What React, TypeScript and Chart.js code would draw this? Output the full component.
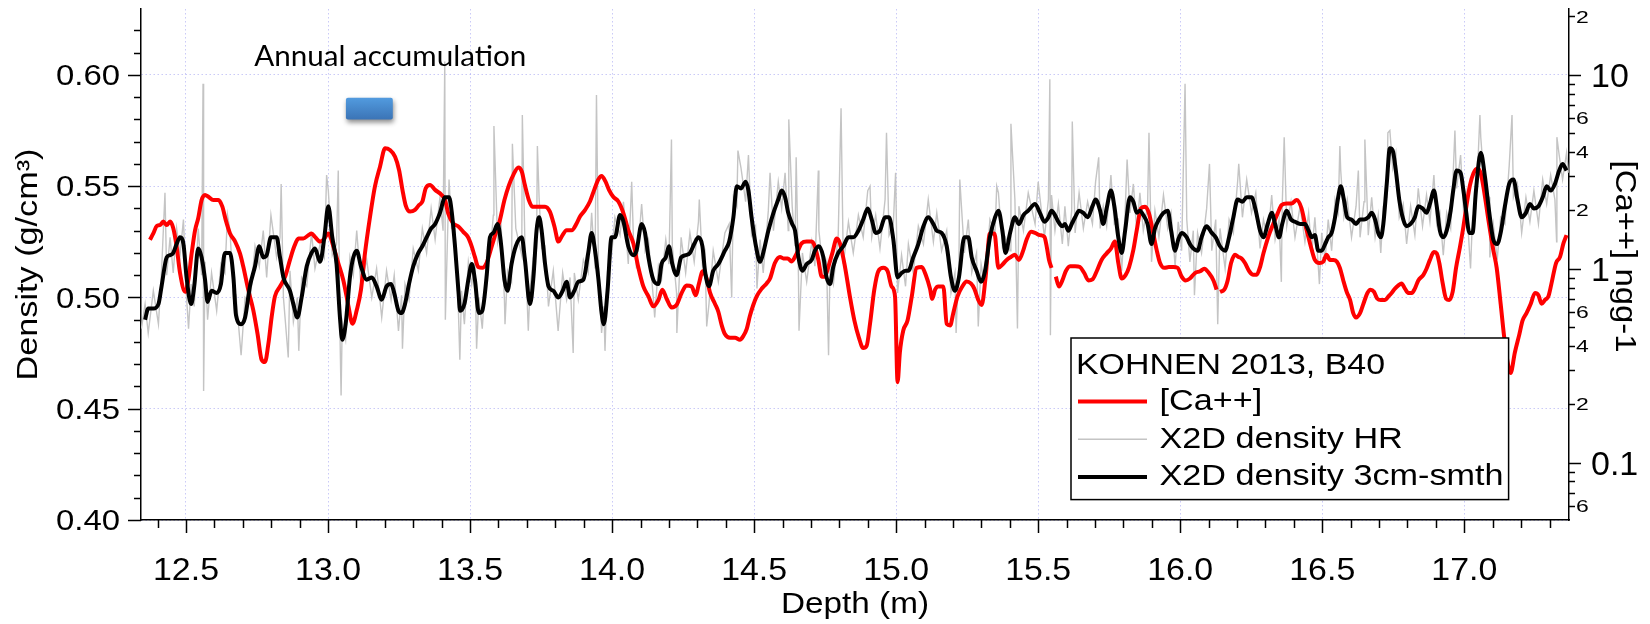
import React, { useEffect, useRef } from "react";
import { Chart, registerables } from "chart.js";

Chart.register(...registerables);

// ---------- axis definitions ----------
const depthTicks = [12.5, 13.0, 13.5, 14.0, 14.5, 15.0, 15.5, 16.0, 16.5, 17.0];
const depthTickLabels = ["12.5", "13.0", "13.5", "14.0", "14.5", "15.0", "15.5", "16.0", "16.5", "17.0"];
const densityTicks = [0.4, 0.45, 0.5, 0.55, 0.6];
const densityTickLabels = ["0.40", "0.45", "0.50", "0.55", "0.60"];
const caMajorTicks = [0.1, 1, 10];
const caMajorLabels = ["0.1", "1", "10"];
const caLabeledMinorTicks = [0.06, 0.2, 0.4, 0.6, 2, 4, 6, 20];
const caLabeledMinorLabels = ["6", "2", "4", "6", "2", "4", "6", "2"];
const caPlainMinorTicks = [0.07, 0.08, 0.09, 0.3, 0.5, 0.7, 0.8, 0.9, 3, 5, 7, 8, 9];

const depthRange = [12.3416, 17.3686];
const densityRange = [0.4, 0.6296];
const caRange = [0.0506, 21.84];

const legendTitle = "KOHNEN 2013, B40";
const annotationText = "Annual accumulation";
const annualBoxDepth = [13.063, 13.228];
const annualBoxDensity = [0.58, 0.5897];
const annotationAnchor = [13.219, 0.604];

// ---------- series: X2D density 3cm smoothed [depth m, g/cm3] ----------
const smoothSeries: [number, number][] = [
  [12.356, 0.490], [12.367, 0.495], [12.385, 0.495], [12.403, 0.497], [12.414, 0.505], [12.432, 0.518],
  [12.444, 0.519], [12.455, 0.520], [12.467, 0.524], [12.479, 0.527], [12.491, 0.524], [12.502, 0.509],
  [12.518, 0.497], [12.529, 0.505], [12.543, 0.522], [12.555, 0.518], [12.567, 0.508], [12.576, 0.498],
  [12.590, 0.503], [12.608, 0.502], [12.623, 0.506], [12.637, 0.520], [12.655, 0.520], [12.667, 0.509],
  [12.676, 0.492], [12.694, 0.488], [12.708, 0.491], [12.725, 0.505], [12.743, 0.514], [12.758, 0.523],
  [12.772, 0.518], [12.784, 0.519], [12.799, 0.527], [12.819, 0.527], [12.831, 0.518], [12.843, 0.509],
  [12.866, 0.503], [12.878, 0.497], [12.892, 0.491], [12.907, 0.500], [12.925, 0.514], [12.942, 0.520],
  [12.954, 0.522], [12.972, 0.516], [12.987, 0.527], [13.001, 0.541], [13.015, 0.527], [13.030, 0.515],
  [13.042, 0.491], [13.050, 0.481], [13.062, 0.488], [13.077, 0.509], [13.089, 0.518], [13.101, 0.521],
  [13.116, 0.514], [13.136, 0.508], [13.154, 0.509], [13.171, 0.505], [13.189, 0.499], [13.206, 0.505],
  [13.222, 0.506], [13.233, 0.502], [13.248, 0.494], [13.259, 0.493], [13.271, 0.497], [13.285, 0.506],
  [13.300, 0.514], [13.318, 0.520], [13.332, 0.523], [13.347, 0.527], [13.363, 0.531], [13.377, 0.533],
  [13.394, 0.538], [13.412, 0.545], [13.426, 0.545], [13.435, 0.539], [13.447, 0.523], [13.459, 0.503],
  [13.465, 0.494], [13.480, 0.497], [13.494, 0.508], [13.506, 0.515], [13.517, 0.508], [13.531, 0.493],
  [13.543, 0.494], [13.558, 0.509], [13.570, 0.527], [13.582, 0.529], [13.597, 0.533], [13.609, 0.524],
  [13.621, 0.508], [13.632, 0.503], [13.646, 0.515], [13.661, 0.523], [13.682, 0.527], [13.693, 0.517],
  [13.711, 0.497], [13.723, 0.509], [13.734, 0.530], [13.743, 0.536], [13.752, 0.530], [13.764, 0.515],
  [13.776, 0.505], [13.793, 0.503], [13.811, 0.500], [13.826, 0.503], [13.840, 0.507], [13.852, 0.500],
  [13.867, 0.503], [13.881, 0.507], [13.899, 0.508], [13.916, 0.520], [13.928, 0.529], [13.940, 0.521],
  [13.952, 0.508], [13.963, 0.493], [13.971, 0.488], [13.984, 0.503], [13.998, 0.527], [14.010, 0.527],
  [14.028, 0.537], [14.040, 0.534], [14.057, 0.523], [14.075, 0.519], [14.086, 0.521], [14.104, 0.533],
  [14.116, 0.529], [14.128, 0.518], [14.145, 0.508], [14.163, 0.506], [14.174, 0.515], [14.189, 0.518],
  [14.200, 0.523], [14.212, 0.515], [14.227, 0.510], [14.243, 0.518], [14.259, 0.519], [14.274, 0.520],
  [14.289, 0.524], [14.304, 0.527], [14.318, 0.523], [14.327, 0.512], [14.341, 0.505], [14.356, 0.512],
  [14.374, 0.515], [14.397, 0.521], [14.412, 0.525], [14.427, 0.536], [14.439, 0.550], [14.454, 0.549],
  [14.470, 0.552], [14.480, 0.548], [14.491, 0.536], [14.505, 0.524], [14.521, 0.516], [14.532, 0.520],
  [14.550, 0.530], [14.568, 0.538], [14.585, 0.544], [14.597, 0.548], [14.609, 0.545], [14.620, 0.538],
  [14.634, 0.533], [14.644, 0.530], [14.656, 0.518], [14.670, 0.512], [14.685, 0.515], [14.703, 0.517],
  [14.714, 0.521], [14.728, 0.523], [14.744, 0.518], [14.755, 0.509], [14.767, 0.506], [14.779, 0.514],
  [14.796, 0.520], [14.814, 0.523], [14.832, 0.527], [14.849, 0.527], [14.867, 0.530], [14.884, 0.535],
  [14.900, 0.540], [14.914, 0.535], [14.928, 0.529], [14.943, 0.530], [14.961, 0.536], [14.975, 0.536],
  [14.990, 0.526], [15.005, 0.509], [15.019, 0.511], [15.033, 0.512], [15.043, 0.512], [15.060, 0.518],
  [15.078, 0.524], [15.096, 0.532], [15.113, 0.536], [15.131, 0.533], [15.143, 0.530], [15.160, 0.529],
  [15.178, 0.523], [15.193, 0.509], [15.207, 0.503], [15.221, 0.509], [15.240, 0.527], [15.254, 0.527],
  [15.266, 0.518], [15.283, 0.512], [15.299, 0.507], [15.313, 0.512], [15.330, 0.527], [15.348, 0.536],
  [15.360, 0.539], [15.374, 0.530], [15.385, 0.520], [15.401, 0.529], [15.418, 0.536], [15.432, 0.533],
  [15.448, 0.537], [15.465, 0.539], [15.489, 0.542], [15.506, 0.538], [15.522, 0.534], [15.536, 0.536],
  [15.547, 0.539], [15.559, 0.537], [15.571, 0.534], [15.585, 0.532], [15.594, 0.533], [15.606, 0.530],
  [15.618, 0.533], [15.630, 0.536], [15.644, 0.539], [15.659, 0.538], [15.674, 0.536], [15.691, 0.541],
  [15.702, 0.544], [15.718, 0.539], [15.729, 0.533], [15.741, 0.540], [15.756, 0.548], [15.768, 0.541],
  [15.782, 0.527], [15.794, 0.520], [15.806, 0.530], [15.823, 0.545], [15.835, 0.543], [15.847, 0.538],
  [15.858, 0.539], [15.870, 0.537], [15.885, 0.533], [15.899, 0.524], [15.911, 0.531], [15.925, 0.535],
  [15.941, 0.538], [15.956, 0.539], [15.968, 0.530], [15.982, 0.521], [15.993, 0.526], [16.005, 0.529],
  [16.023, 0.527], [16.034, 0.524], [16.046, 0.522], [16.061, 0.521], [16.075, 0.527], [16.093, 0.532],
  [16.111, 0.529], [16.125, 0.527], [16.140, 0.523], [16.158, 0.521], [16.172, 0.527], [16.187, 0.536],
  [16.202, 0.544], [16.219, 0.543], [16.234, 0.545], [16.251, 0.545], [16.266, 0.539], [16.281, 0.530],
  [16.293, 0.527], [16.308, 0.533], [16.322, 0.538], [16.334, 0.533], [16.348, 0.527], [16.359, 0.533],
  [16.375, 0.539], [16.390, 0.535], [16.404, 0.534], [16.422, 0.533], [16.439, 0.533], [16.452, 0.530],
  [16.463, 0.527], [16.474, 0.528], [16.486, 0.521], [16.498, 0.521], [16.510, 0.524], [16.521, 0.527],
  [16.533, 0.529], [16.545, 0.536], [16.556, 0.545], [16.565, 0.550], [16.576, 0.544], [16.588, 0.536],
  [16.603, 0.535], [16.619, 0.533], [16.633, 0.535], [16.647, 0.535], [16.662, 0.536], [16.674, 0.538],
  [16.686, 0.535], [16.697, 0.529], [16.706, 0.527], [16.715, 0.533], [16.727, 0.551], [16.738, 0.567],
  [16.748, 0.566], [16.759, 0.557], [16.771, 0.544], [16.785, 0.535], [16.797, 0.532], [16.811, 0.533],
  [16.826, 0.536], [16.838, 0.541], [16.853, 0.540], [16.867, 0.538], [16.879, 0.542], [16.893, 0.548],
  [16.903, 0.541], [16.914, 0.530], [16.926, 0.527], [16.938, 0.530], [16.952, 0.539], [16.961, 0.548],
  [16.973, 0.557], [16.987, 0.556], [16.997, 0.548], [17.006, 0.539], [17.018, 0.529], [17.029, 0.529],
  [17.041, 0.548], [17.058, 0.565], [17.073, 0.554], [17.088, 0.538], [17.102, 0.526], [17.116, 0.524],
  [17.128, 0.529], [17.143, 0.541], [17.158, 0.551], [17.173, 0.553], [17.187, 0.544], [17.202, 0.536],
  [17.217, 0.538], [17.231, 0.542], [17.245, 0.540], [17.261, 0.541], [17.276, 0.545], [17.290, 0.550],
  [17.304, 0.548], [17.319, 0.551], [17.334, 0.557], [17.346, 0.560], [17.360, 0.557],
];

// ---------- series: X2D density high resolution [depth m, g/cm3] ----------
const hrSeries: [number, number][] = [
  [12.343, 0.486], [12.356, 0.497], [12.367, 0.484], [12.385, 0.503], [12.403, 0.488], [12.414, 0.512],
  [12.426, 0.547], [12.432, 0.510], [12.444, 0.527], [12.455, 0.511], [12.467, 0.531], [12.479, 0.519],
  [12.491, 0.535], [12.502, 0.500], [12.509, 0.486], [12.518, 0.506], [12.529, 0.496], [12.543, 0.531],
  [12.555, 0.510], [12.560, 0.596], [12.562, 0.458], [12.567, 0.516], [12.576, 0.490], [12.590, 0.511],
  [12.608, 0.494], [12.623, 0.515], [12.637, 0.511], [12.646, 0.537], [12.655, 0.530], [12.667, 0.500],
  [12.676, 0.501], [12.694, 0.474], [12.708, 0.500], [12.725, 0.497], [12.743, 0.523], [12.758, 0.514],
  [12.772, 0.530], [12.784, 0.509], [12.799, 0.537], [12.819, 0.518], [12.831, 0.527], [12.835, 0.551],
  [12.843, 0.500], [12.860, 0.473], [12.866, 0.512], [12.878, 0.489], [12.892, 0.500], [12.897, 0.476],
  [12.907, 0.509], [12.925, 0.505], [12.942, 0.529], [12.954, 0.513], [12.972, 0.524], [12.987, 0.518],
  [12.995, 0.555], [13.001, 0.548], [13.015, 0.519], [13.030, 0.524], [13.036, 0.557], [13.042, 0.484],
  [13.046, 0.456], [13.050, 0.489], [13.062, 0.481], [13.077, 0.518], [13.089, 0.510], [13.101, 0.530],
  [13.116, 0.505], [13.136, 0.517], [13.154, 0.500], [13.171, 0.513], [13.189, 0.491], [13.206, 0.512],
  [13.222, 0.499], [13.233, 0.510], [13.248, 0.485], [13.259, 0.501], [13.262, 0.477], [13.271, 0.506],
  [13.285, 0.499], [13.300, 0.522], [13.318, 0.512], [13.332, 0.531], [13.347, 0.520], [13.363, 0.540],
  [13.377, 0.526], [13.394, 0.545], [13.405, 0.530], [13.411, 0.606], [13.413, 0.490], [13.426, 0.553],
  [13.435, 0.531], [13.447, 0.531], [13.459, 0.494], [13.464, 0.472], [13.470, 0.503], [13.480, 0.488],
  [13.494, 0.516], [13.506, 0.506], [13.517, 0.516], [13.523, 0.477], [13.531, 0.500], [13.543, 0.486],
  [13.558, 0.518], [13.570, 0.519], [13.582, 0.537], [13.584, 0.577], [13.597, 0.525], [13.609, 0.533],
  [13.621, 0.499], [13.623, 0.488], [13.632, 0.512], [13.646, 0.507], [13.649, 0.569], [13.661, 0.531],
  [13.682, 0.519], [13.684, 0.582], [13.693, 0.525], [13.705, 0.485], [13.711, 0.504], [13.723, 0.518],
  [13.734, 0.522], [13.737, 0.568], [13.743, 0.545], [13.752, 0.522], [13.764, 0.523], [13.776, 0.496],
  [13.793, 0.512], [13.810, 0.485], [13.826, 0.511], [13.840, 0.499], [13.852, 0.509], [13.863, 0.475],
  [13.867, 0.511], [13.881, 0.499], [13.899, 0.517], [13.916, 0.511], [13.928, 0.538], [13.940, 0.513],
  [13.945, 0.591], [13.952, 0.516], [13.963, 0.484], [13.971, 0.496], [13.975, 0.476], [13.984, 0.512],
  [13.998, 0.519], [14.010, 0.536], [14.028, 0.528], [14.040, 0.543], [14.057, 0.515], [14.069, 0.552],
  [14.075, 0.527], [14.086, 0.513], [14.104, 0.542], [14.116, 0.521], [14.128, 0.526], [14.145, 0.500],
  [14.150, 0.491], [14.163, 0.514], [14.174, 0.508], [14.189, 0.526], [14.200, 0.515], [14.209, 0.571],
  [14.212, 0.523], [14.227, 0.502], [14.228, 0.484], [14.243, 0.527], [14.259, 0.511], [14.274, 0.529],
  [14.289, 0.516], [14.304, 0.534], [14.307, 0.544], [14.318, 0.515], [14.327, 0.520], [14.333, 0.487],
  [14.341, 0.497], [14.356, 0.521], [14.374, 0.507], [14.397, 0.529], [14.412, 0.533], [14.421, 0.500],
  [14.427, 0.545], [14.439, 0.541], [14.443, 0.566], [14.454, 0.558], [14.470, 0.543], [14.480, 0.564],
  [14.491, 0.528], [14.505, 0.532], [14.510, 0.504], [14.521, 0.526], [14.532, 0.511], [14.550, 0.539],
  [14.556, 0.556], [14.568, 0.530], [14.585, 0.552], [14.597, 0.540], [14.609, 0.556], [14.620, 0.530],
  [14.622, 0.580], [14.634, 0.541], [14.644, 0.523], [14.648, 0.563], [14.656, 0.510], [14.658, 0.485],
  [14.670, 0.520], [14.685, 0.507], [14.703, 0.525], [14.714, 0.514], [14.726, 0.557], [14.728, 0.530],
  [14.744, 0.511], [14.755, 0.516], [14.762, 0.474], [14.767, 0.513], [14.779, 0.506], [14.796, 0.528],
  [14.806, 0.585], [14.814, 0.515], [14.832, 0.534], [14.849, 0.520], [14.867, 0.537], [14.884, 0.527],
  [14.900, 0.548], [14.908, 0.550], [14.914, 0.527], [14.928, 0.537], [14.943, 0.522], [14.961, 0.544],
  [14.966, 0.574], [14.975, 0.528], [14.990, 0.533], [14.998, 0.556], [15.005, 0.502], [15.019, 0.519],
  [15.033, 0.505], [15.043, 0.524], [15.060, 0.511], [15.078, 0.532], [15.096, 0.524], [15.113, 0.544],
  [15.131, 0.525], [15.143, 0.538], [15.160, 0.521], [15.178, 0.530], [15.193, 0.502], [15.207, 0.511],
  [15.211, 0.484], [15.221, 0.517], [15.224, 0.553], [15.240, 0.520], [15.254, 0.535], [15.266, 0.511],
  [15.283, 0.520], [15.289, 0.487], [15.299, 0.515], [15.313, 0.505], [15.330, 0.535], [15.348, 0.529],
  [15.354, 0.550], [15.360, 0.547], [15.374, 0.523], [15.385, 0.527], [15.401, 0.521], [15.404, 0.578],
  [15.418, 0.544], [15.427, 0.486], [15.432, 0.541], [15.448, 0.530], [15.465, 0.547], [15.489, 0.533],
  [15.500, 0.552], [15.506, 0.545], [15.522, 0.527], [15.536, 0.544], [15.541, 0.598], [15.543, 0.483],
  [15.547, 0.546], [15.559, 0.530], [15.571, 0.542], [15.585, 0.524], [15.594, 0.541], [15.606, 0.523],
  [15.618, 0.539], [15.620, 0.579], [15.630, 0.529], [15.644, 0.547], [15.659, 0.531], [15.674, 0.543],
  [15.691, 0.533], [15.702, 0.552], [15.713, 0.563], [15.718, 0.531], [15.729, 0.541], [15.741, 0.532],
  [15.756, 0.555], [15.768, 0.533], [15.782, 0.535], [15.794, 0.512], [15.806, 0.538], [15.813, 0.562],
  [15.823, 0.538], [15.835, 0.551], [15.847, 0.530], [15.858, 0.547], [15.870, 0.530], [15.885, 0.541],
  [15.890, 0.574], [15.899, 0.516], [15.911, 0.539], [15.925, 0.527], [15.941, 0.546], [15.956, 0.531],
  [15.968, 0.538], [15.982, 0.514], [15.993, 0.534], [16.005, 0.521], [16.017, 0.596], [16.023, 0.535],
  [16.034, 0.516], [16.046, 0.530], [16.050, 0.501], [16.061, 0.529], [16.075, 0.520], [16.093, 0.540],
  [16.103, 0.560], [16.111, 0.521], [16.125, 0.535], [16.132, 0.488], [16.140, 0.531], [16.158, 0.513],
  [16.172, 0.535], [16.187, 0.529], [16.202, 0.552], [16.206, 0.560], [16.219, 0.536], [16.234, 0.553],
  [16.251, 0.538], [16.266, 0.547], [16.281, 0.522], [16.293, 0.535], [16.308, 0.526], [16.322, 0.546],
  [16.334, 0.526], [16.348, 0.535], [16.356, 0.507], [16.359, 0.541], [16.366, 0.572], [16.375, 0.532],
  [16.390, 0.543], [16.404, 0.527], [16.422, 0.541], [16.439, 0.525], [16.452, 0.538], [16.463, 0.520],
  [16.474, 0.536], [16.486, 0.514], [16.490, 0.506], [16.498, 0.529], [16.510, 0.517], [16.521, 0.535],
  [16.533, 0.521], [16.545, 0.544], [16.556, 0.538], [16.562, 0.568], [16.565, 0.557], [16.576, 0.536],
  [16.588, 0.544], [16.603, 0.527], [16.619, 0.541], [16.627, 0.557], [16.633, 0.527], [16.647, 0.543],
  [16.650, 0.571], [16.662, 0.528], [16.674, 0.545], [16.686, 0.527], [16.697, 0.537], [16.706, 0.520],
  [16.715, 0.541], [16.727, 0.545], [16.731, 0.574], [16.738, 0.575], [16.748, 0.558], [16.759, 0.565],
  [16.771, 0.536], [16.785, 0.542], [16.797, 0.524], [16.811, 0.541], [16.826, 0.528], [16.838, 0.549],
  [16.853, 0.532], [16.867, 0.546], [16.879, 0.534], [16.893, 0.555], [16.903, 0.533], [16.914, 0.538],
  [16.926, 0.519], [16.938, 0.538], [16.952, 0.531], [16.961, 0.556], [16.967, 0.575], [16.973, 0.549],
  [16.987, 0.564], [16.997, 0.540], [17.006, 0.547], [17.018, 0.521], [17.022, 0.513], [17.029, 0.536],
  [17.041, 0.540], [17.055, 0.582], [17.058, 0.572], [17.073, 0.546], [17.088, 0.545], [17.090, 0.518],
  [17.102, 0.533], [17.116, 0.517], [17.128, 0.536], [17.143, 0.533], [17.158, 0.559], [17.168, 0.582],
  [17.173, 0.545], [17.187, 0.551], [17.202, 0.529], [17.217, 0.545], [17.231, 0.534], [17.245, 0.548],
  [17.261, 0.533], [17.276, 0.553], [17.290, 0.542], [17.304, 0.555], [17.319, 0.544], [17.325, 0.525],
  [17.326, 0.572], [17.334, 0.564], [17.346, 0.553], [17.360, 0.565], [17.366, 0.556],
];

// ---------- series: [Ca++] ng/g [depth m, ng/g]; null = data gap ----------
const caSeries: [number, number | null][] = [
  [12.373, 1.41], [12.385, 1.52], [12.397, 1.66], [12.409, 1.68], [12.420, 1.75], [12.432, 1.68],
  [12.444, 1.75], [12.455, 1.62], [12.467, 1.30], [12.479, 0.95], [12.497, 0.76], [12.508, 0.87],
  [12.520, 1.20], [12.532, 1.58], [12.543, 1.82], [12.555, 2.26], [12.567, 2.40], [12.579, 2.35],
  [12.596, 2.26], [12.614, 2.26], [12.628, 2.09], [12.640, 1.78], [12.655, 1.52], [12.673, 1.38],
  [12.690, 1.20], [12.702, 1.02], [12.719, 0.78], [12.737, 0.61], [12.752, 0.46], [12.766, 0.34],
  [12.778, 0.33], [12.790, 0.41], [12.802, 0.57], [12.813, 0.72], [12.831, 0.81], [12.849, 0.91],
  [12.866, 1.11], [12.881, 1.30], [12.896, 1.43], [12.913, 1.43], [12.931, 1.49], [12.942, 1.52],
  [12.954, 1.46], [12.972, 1.38], [12.984, 1.41], [13.001, 1.52], [13.019, 1.30], [13.036, 1.07],
  [13.054, 0.87], [13.072, 0.64], [13.086, 0.52], [13.101, 0.61], [13.116, 0.78], [13.130, 1.20],
  [13.148, 1.86], [13.165, 2.65], [13.183, 3.36], [13.201, 4.18], [13.218, 4.09], [13.236, 3.78],
  [13.250, 3.23], [13.262, 2.55], [13.273, 2.13], [13.289, 1.97], [13.306, 2.01], [13.320, 2.13],
  [13.332, 2.22], [13.344, 2.60], [13.359, 2.70], [13.377, 2.55], [13.400, 2.40], [13.412, 2.26],
  [13.423, 1.93], [13.441, 1.71], [13.459, 1.65], [13.476, 1.55], [13.492, 1.46], [13.506, 1.30],
  [13.517, 1.15], [13.529, 1.02], [13.543, 1.01], [13.558, 1.07], [13.576, 1.30], [13.590, 1.52],
  [13.605, 1.78], [13.621, 2.26], [13.637, 2.70], [13.652, 3.04], [13.670, 3.33], [13.682, 3.17],
  [13.693, 2.70], [13.707, 2.26], [13.719, 2.09], [13.740, 2.09], [13.764, 2.09], [13.781, 1.97],
  [13.797, 1.65], [13.811, 1.38], [13.822, 1.46], [13.840, 1.58], [13.858, 1.58], [13.875, 1.71],
  [13.887, 1.86], [13.905, 2.01], [13.922, 2.22], [13.937, 2.55], [13.952, 2.89], [13.963, 3.01],
  [13.977, 2.81], [13.989, 2.55], [14.004, 2.35], [14.022, 2.22], [14.040, 1.93], [14.057, 1.58],
  [14.075, 1.35], [14.092, 1.02], [14.110, 0.81], [14.128, 0.72], [14.145, 0.64], [14.163, 0.69],
  [14.177, 0.78], [14.192, 0.70], [14.210, 0.63], [14.227, 0.65], [14.245, 0.75], [14.262, 0.82],
  [14.280, 0.81], [14.294, 0.73], [14.306, 0.84], [14.319, 0.97], [14.333, 0.89], [14.345, 0.75],
  [14.362, 0.66], [14.374, 0.60], [14.386, 0.51], [14.397, 0.46], [14.415, 0.44], [14.433, 0.44],
  [14.450, 0.43], [14.462, 0.45], [14.474, 0.49], [14.485, 0.57], [14.497, 0.65], [14.509, 0.72],
  [14.527, 0.79], [14.544, 0.84], [14.556, 0.89], [14.573, 1.07], [14.591, 1.15], [14.603, 1.13],
  [14.618, 1.13], [14.632, 1.09], [14.650, 1.20], [14.667, 1.35], [14.685, 1.38], [14.703, 1.38],
  [14.714, 1.30], [14.726, 1.11], [14.738, 0.91], [14.749, 0.91], [14.761, 1.02], [14.775, 1.20],
  [14.791, 1.43], [14.802, 1.35], [14.820, 1.02], [14.837, 0.72], [14.853, 0.54], [14.869, 0.44],
  [14.884, 0.39], [14.896, 0.40], [14.908, 0.52], [14.923, 0.78], [14.937, 0.97], [14.955, 1.01],
  [14.970, 0.97], [14.984, 0.81], [14.996, 0.72], [15.005, 0.26], [15.013, 0.37], [15.025, 0.48],
  [15.040, 0.54], [15.055, 0.72], [15.072, 1.01], [15.090, 1.02], [15.104, 0.93], [15.119, 0.79],
  [15.127, 0.70], [15.137, 0.78], [15.148, 0.81], [15.166, 0.81], [15.178, 0.52], [15.190, 0.51],
  [15.201, 0.59], [15.216, 0.72], [15.233, 0.81], [15.248, 0.86], [15.263, 0.84], [15.275, 0.79],
  [15.289, 0.69], [15.301, 0.65], [15.315, 0.91], [15.330, 1.52], [15.346, 1.52], [15.360, 1.01],
  [15.374, 1.05], [15.389, 1.11], [15.404, 1.15], [15.418, 1.18], [15.432, 1.11], [15.448, 1.25],
  [15.459, 1.41], [15.475, 1.55], [15.489, 1.53], [15.506, 1.49], [15.522, 1.46], [15.530, 1.30],
  [15.538, 1.11], [15.547, 1.01], [15.554, null], [15.562, 0.91], [15.573, 0.81], [15.585, 0.87],
  [15.597, 0.97], [15.612, 1.03], [15.630, 1.03], [15.647, 1.02], [15.662, 0.95], [15.677, 0.87],
  [15.691, 0.88], [15.706, 0.97], [15.723, 1.11], [15.741, 1.20], [15.756, 1.27], [15.770, 1.38],
  [15.782, 1.07], [15.794, 0.89], [15.808, 0.93], [15.820, 1.02], [15.835, 1.25], [15.847, 1.58],
  [15.862, 2.05], [15.876, 2.09], [15.890, 1.93], [15.905, 1.52], [15.917, 1.25], [15.929, 1.07],
  [15.944, 1.01], [15.960, 1.02], [15.976, 1.02], [15.991, 1.01], [16.005, 0.91], [16.019, 0.87],
  [16.034, 0.89], [16.052, 0.95], [16.070, 0.97], [16.085, 1.00], [16.101, 0.95], [16.117, 0.87],
  [16.128, 0.78], [16.134, null], [16.140, 0.76], [16.155, 0.78], [16.167, 0.87], [16.179, 1.07],
  [16.193, 1.18], [16.205, 1.15], [16.216, 1.13], [16.228, 1.07], [16.243, 0.97], [16.257, 0.93],
  [16.269, 0.93], [16.281, 1.02], [16.293, 1.20], [16.310, 1.46], [16.328, 1.71], [16.343, 1.93],
  [16.357, 2.13], [16.375, 2.17], [16.392, 2.17], [16.410, 2.26], [16.427, 2.05], [16.439, 1.71],
  [16.451, 1.46], [16.463, 1.25], [16.474, 1.11], [16.490, 1.07], [16.504, 1.09], [16.515, 1.18],
  [16.527, 1.11], [16.539, 1.11], [16.551, 1.09], [16.562, 1.01], [16.574, 0.87], [16.586, 0.76],
  [16.598, 0.69], [16.609, 0.59], [16.619, 0.56], [16.633, 0.59], [16.645, 0.66], [16.659, 0.75],
  [16.670, 0.78], [16.682, 0.76], [16.694, 0.70], [16.706, 0.69], [16.721, 0.69], [16.733, 0.72],
  [16.744, 0.75], [16.756, 0.79], [16.768, 0.82], [16.779, 0.84], [16.791, 0.79], [16.803, 0.75],
  [16.815, 0.75], [16.826, 0.79], [16.838, 0.87], [16.856, 0.93], [16.867, 1.00], [16.879, 1.11],
  [16.893, 1.22], [16.903, 1.20], [16.912, 1.07], [16.924, 0.84], [16.936, 0.70], [16.947, 0.69],
  [16.959, 0.76], [16.971, 1.01], [16.985, 1.30], [16.997, 1.65], [17.008, 2.13], [17.020, 2.70],
  [17.032, 3.10], [17.046, 3.29], [17.058, 3.10], [17.069, 2.55], [17.085, 1.78], [17.102, 1.25],
  [17.114, 1.01], [17.128, 0.66], [17.140, 0.45], [17.151, 0.34], [17.163, 0.29], [17.178, 0.37],
  [17.194, 0.46], [17.205, 0.54], [17.219, 0.59], [17.234, 0.66], [17.249, 0.75], [17.261, 0.73],
  [17.272, 0.66], [17.284, 0.69], [17.296, 0.72], [17.307, 0.84], [17.323, 1.07], [17.337, 1.15],
  [17.349, 1.35], [17.360, 1.49],
];

// ---------- drawing helpers ----------
const SANS = "'Liberation Sans', Arial, Helvetica, sans-serif";

function widthScale(ctx: CanvasRenderingContext2D, font: string, sample: string, target: number) {
  ctx.save();
  ctx.font = font;
  const w = ctx.measureText(sample).width;
  ctx.restore();
  return w > 0 ? target / w : 1;
}

function drawText(
  ctx: CanvasRenderingContext2D,
  s: string,
  x: number,
  y: number,
  font: string,
  opts: { align?: CanvasTextAlign; baseline?: CanvasTextBaseline; k?: number; rot?: number; color?: string } = {}
) {
  ctx.save();
  ctx.font = font;
  ctx.fillStyle = opts.color || "#000";
  ctx.textAlign = opts.align || "left";
  ctx.textBaseline = opts.baseline || "alphabetic";
  ctx.translate(x, y);
  if (opts.rot) ctx.rotate(opts.rot);
  ctx.scale(opts.k ?? 1, 1);
  ctx.fillText(s, 0, 0);
  ctx.restore();
}

function seg(ctx: CanvasRenderingContext2D, x1: number, y1: number, x2: number, y2: number) {
  ctx.beginPath();
  ctx.moveTo(x1, y1);
  ctx.lineTo(x2, y2);
  ctx.stroke();
}

const decorPlugin = {
  id: "decor",
  afterDraw(chart: any) {
    const { ctx, chartArea: a, scales } = chart;
    const sx = scales.x;
    const sy = scales.y;
    const sc = scales.yCa;

    ctx.save();
    ctx.strokeStyle = "#000";
    ctx.lineWidth = 1.5;

    // x tick marks (major every 0.5, minor every 0.1)
    for (let i = Math.ceil(sx.min * 10); i <= Math.floor(sx.max * 10); i++) {
      const px = Math.round(sx.getPixelForValue(i / 10)) + 0.5;
      seg(ctx, px, a.bottom, px, a.bottom + (i % 5 === 0 ? 13 : 8));
    }
    // left tick marks (major every 0.05, minor every 0.01)
    for (let i = Math.ceil(sy.min * 100 - 1e-6); i <= Math.floor(sy.max * 100 + 1e-6); i++) {
      const py = Math.round(sy.getPixelForValue(i / 100)) + 0.5;
      seg(ctx, a.left, py, a.left - (i % 5 === 0 ? 13 : 7), py);
    }
    // right log tick marks
    caMajorTicks.forEach((v) => {
      const py = Math.round(sc.getPixelForValue(v)) + 0.5;
      seg(ctx, a.right, py, a.right + 12, py);
    });
    [...caLabeledMinorTicks, ...caPlainMinorTicks].forEach((v) => {
      const py = Math.round(sc.getPixelForValue(v)) + 0.5;
      seg(ctx, a.right, py, a.right + 6, py);
    });
    ctx.restore();

    // tick labels
    const fx = `31px ${SANS}`;
    const kx = widthScale(ctx, fx, "12.5", 66);
    depthTicks.forEach((v, i) => {
      drawText(ctx, depthTickLabels[i], sx.getPixelForValue(v), a.bottom + 60, fx, { align: "center", k: kx });
    });
    const fy = `29px ${SANS}`;
    const ky = widthScale(ctx, fy, "0.60", 64);
    densityTicks.forEach((v, i) => {
      drawText(ctx, densityTickLabels[i], a.left - 21, sy.getPixelForValue(v) + 10.3, fy, { align: "right", k: ky });
    });
    const fBig = `34px ${SANS}`;
    caMajorTicks.forEach((v, i) => {
      drawText(ctx, caMajorLabels[i], a.right + 22, sc.getPixelForValue(v) + 12.2, fBig, { align: "left" });
    });
    const fSmall = `17px ${SANS}`;
    caLabeledMinorTicks.forEach((v, i) => {
      drawText(ctx, caLabeledMinorLabels[i], a.right + 7, sc.getPixelForValue(v) + 6.1, fSmall, { align: "left", k: 1.35 });
    });

    // axis titles
    const ft = `29px ${SANS}`;
    const xTitle = sx.options.title.text as string;
    drawText(ctx, xTitle, (a.left + a.right) / 2, 605, `30px ${SANS}`, {
      align: "center",
      baseline: "middle",
      k: widthScale(ctx, `30px ${SANS}`, xTitle, 148),
    });
    const yTitle = sy.options.title.text as string;
    drawText(ctx, yTitle, 28.5, (a.top + a.bottom) / 2, ft, {
      align: "center",
      baseline: "middle",
      rot: -Math.PI / 2,
      k: widthScale(ctx, ft, yTitle, 232),
    });
    const cTitle = sc.options.title.text as string;
    drawText(ctx, cTitle, a.right + 55, (a.top + a.bottom) / 2 - 8, ft, {
      align: "center",
      baseline: "middle",
      rot: Math.PI / 2,
      k: widthScale(ctx, ft, cTitle, 192),
    });

    // annotation: annual accumulation box
    const bx1 = sx.getPixelForValue(annualBoxDepth[0]);
    const bx2 = sx.getPixelForValue(annualBoxDepth[1]);
    const by1 = sy.getPixelForValue(annualBoxDensity[1]);
    const by2 = sy.getPixelForValue(annualBoxDensity[0]);
    ctx.save();
    const grad = ctx.createLinearGradient(0, by1, 0, by2);
    grad.addColorStop(0, "#529bdf");
    grad.addColorStop(1, "#3b74b6");
    ctx.shadowColor = "rgba(0,0,0,0.45)";
    ctx.shadowBlur = 5;
    ctx.shadowOffsetX = 1;
    ctx.shadowOffsetY = 3;
    ctx.fillStyle = grad;
    ctx.beginPath();
    ctx.roundRect(bx1, by1, bx2 - bx1, by2 - by1, 2);
    ctx.fill();
    ctx.restore();
    const fa = `28px Lato, 'Open Sans', sans-serif`;
    drawText(ctx, annotationText, sx.getPixelForValue(annotationAnchor[0]), sy.getPixelForValue(annotationAnchor[1]), fa, {
      align: "center",
      k: widthScale(ctx, fa, annotationText, 272),
    });

    // legend box (bottom-right, inside plot area)
    const L = a.right - 498;
    const T = a.bottom - 182;
    const W = 437.6;
    const H = 161.6;
    ctx.save();
    ctx.fillStyle = "#fff";
    ctx.fillRect(L, T, W, H);
    ctx.strokeStyle = "#000";
    ctx.lineWidth = 1.5;
    ctx.strokeRect(L, T, W, H);
    ctx.restore();
    const fl = `30px ${SANS}`;
    drawText(ctx, legendTitle, L + 5, T + 35.5, fl, { k: widthScale(ctx, fl, legendTitle, 309) });
    const ds = chart.data.datasets;
    const kl = widthScale(ctx, fl, ds[2].label, 344);
    [0, 1, 2].forEach((di, r) => {
      const d = ds[di];
      const yy = T + 63.5 + r * 37.8;
      ctx.save();
      ctx.strokeStyle = d.borderColor;
      ctx.lineWidth = Math.max(1, d.borderWidth);
      seg(ctx, L + 7, yy, L + 76, yy);
      ctx.restore();
      drawText(ctx, d.label, L + 88.5, yy, fl, { baseline: "middle", k: kl });
    });
  },
};

export default function App() {
  const ref = useRef<HTMLCanvasElement | null>(null);

  useEffect(() => {
    document.body.style.margin = "0";
    const canvas = ref.current;
    if (!canvas) return;

    const gridColor = "rgba(150,150,240,0.5)";
    const chart = new Chart(canvas, {
      type: "line",
      data: {
        datasets: [
          {
            label: "[Ca++]",
            data: caSeries.map(([x, y]) => ({ x, y })),
            yAxisID: "yCa",
            borderColor: "#ff0000",
            borderWidth: 4,
            pointRadius: 0,
            spanGaps: false,
            cubicInterpolationMode: "monotone",
            order: 1,
          },
          {
            label: "X2D density HR",
            data: hrSeries.map(([x, y]) => ({ x, y })),
            yAxisID: "y",
            borderColor: "#c4c4c4",
            borderWidth: 1.4,
            pointRadius: 0,
            order: 2,
          },
          {
            label: "X2D density 3cm-smth",
            data: smoothSeries.map(([x, y]) => ({ x, y })),
            yAxisID: "y",
            borderColor: "#000000",
            borderWidth: 4,
            pointRadius: 0,
            cubicInterpolationMode: "monotone",
            order: 0,
          },
        ],
      } as any,
      options: {
        responsive: false,
        animation: false,
        devicePixelRatio: 1,
        events: [],
        layout: { padding: { top: 9, left: 0, right: 0, bottom: 0 } },
        plugins: { legend: { display: false }, tooltip: { enabled: false } },
        scales: {
          x: {
            type: "linear",
            position: "bottom",
            min: depthRange[0],
            max: depthRange[1],
            title: { display: false, text: "Depth (m)" },
            ticks: { display: false },
            grid: { color: gridColor, lineWidth: 1, drawTicks: false },
            border: { display: true, color: "#000", width: 1.5, dash: [1.5, 2.5] },
            afterBuildTicks: (s: any) => {
              s.ticks = depthTicks.map((v) => ({ value: v }));
            },
            afterFit: (s: any) => {
              s.height = 104;
            },
          },
          y: {
            type: "linear",
            position: "left",
            min: densityRange[0],
            max: densityRange[1],
            title: { display: false, text: "Density (g/cm³)" },
            ticks: { display: false },
            grid: { color: gridColor, lineWidth: 1, drawTicks: false },
            border: { display: true, color: "#000", width: 1.5, dash: [1.5, 2.5] },
            afterBuildTicks: (s: any) => {
              s.ticks = densityTicks.map((v) => ({ value: v }));
            },
            afterFit: (s: any) => {
              s.width = 141;
            },
          },
          yCa: {
            type: "logarithmic",
            position: "right",
            min: caRange[0],
            max: caRange[1],
            title: { display: false, text: "[Ca++] ngg-1" },
            ticks: { display: false },
            grid: { display: false, drawTicks: false },
            border: { display: true, color: "#000", width: 1.5 },
            afterBuildTicks: (s: any) => {
              s.ticks = caMajorTicks.map((v) => ({ value: v }));
            },
            afterFit: (s: any) => {
              s.width = 81;
            },
          },
        },
      } as any,
      plugins: [decorPlugin],
    });

    return () => chart.destroy();
  }, []);

  return (
    <div style={{ width: 1650, height: 624, position: "relative" }}>
      <canvas ref={ref} width={1650} height={624} style={{ display: "block", width: 1650, height: 624 }} />
    </div>
  );
}
